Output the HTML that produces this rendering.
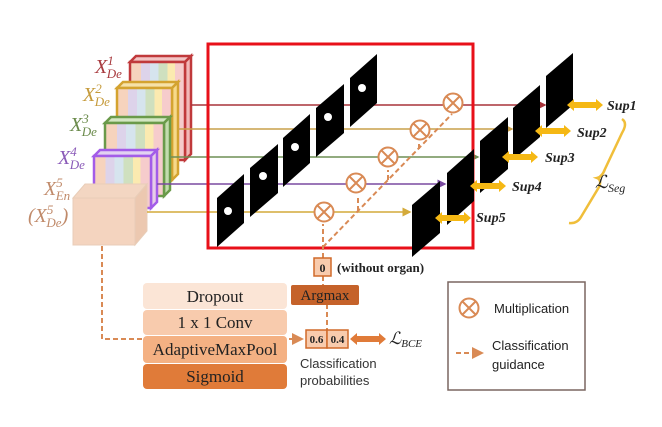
<!DOCTYPE html>
<html><head><meta charset="utf-8"><style>
body{margin:0;background:#fff;width:662px;height:427px;overflow:hidden}
svg{display:block}
text{font-family:"Liberation Serif",serif}
.it{font-style:italic;font-family:"Liberation Serif",serif}
</style></head><body>
<svg width="662" height="427" viewBox="0 0 662 427" xmlns="http://www.w3.org/2000/svg">
<defs>
<linearGradient id="st" x1="0" x2="1" y1="0" y2="0">
<stop offset="0" stop-color="#f6d3bd"/><stop offset="0.2" stop-color="#f6d3bd"/>
<stop offset="0.2" stop-color="#ddd3ea"/><stop offset="0.36" stop-color="#ddd3ea"/>
<stop offset="0.36" stop-color="#d6e4ee"/><stop offset="0.52" stop-color="#d6e4ee"/>
<stop offset="0.52" stop-color="#cfe0bf"/><stop offset="0.68" stop-color="#cfe0bf"/>
<stop offset="0.68" stop-color="#fbeab0"/><stop offset="0.82" stop-color="#fbeab0"/>
<stop offset="0.82" stop-color="#f6cccc"/><stop offset="1" stop-color="#f6cccc"/>
</linearGradient>
<marker id="ah" markerWidth="6" markerHeight="6" refX="5" refY="3" orient="auto"><path d="M0,0L6,3L0,6z" fill="context-stroke"/></marker>
<marker id="oa" markerWidth="6" markerHeight="6" refX="5" refY="3" orient="auto"><path d="M0,0L6,3L0,6z" fill="#d98a55"/></marker>
<g id="m"><circle r="9.5"/><path d="M-6.5,-6.5L6.5,6.5M6.5,-6.5L-6.5,6.5"/></g>
</defs>

<!-- feature blocks -->
<g stroke-width="2.5">
<g stroke="#c0393b"><path d="M130,62 L136,56 L191,56 L185,62z" fill="#f2c4c4"/><path d="M185,62 L191,56 L191,154 L185,160z" fill="#f2b8b8"/><rect x="130" y="62" width="55" height="98" fill="url(#st)"/></g>
<g stroke="#d4a330"><path d="M117,88 L123,82 L178,82 L172,88z" fill="#f6e2a8"/><path d="M172,88 L178,82 L178,174 L172,180z" fill="#f7d98a"/><rect x="117" y="88" width="55" height="92" fill="url(#st)"/></g>
<g stroke="#6a9a4a"><path d="M105,123 L111,117 L170,117 L164,123z" fill="#d3e6c2"/><path d="M164,123 L170,117 L170,190 L164,196z" fill="#c3dcae"/><rect x="105" y="123" width="59" height="73" fill="url(#st)"/></g>
<g stroke="#a35ce8"><path d="M94,156 L100,150 L157,150 L151,156z" fill="#e2d2f2"/><path d="M151,156 L157,150 L157,202 L151,208z" fill="#e6cde8"/><rect x="94" y="156" width="57" height="52" fill="url(#st)"/></g>
</g>
<g stroke="#e8cdb8" stroke-width="1"><path d="M73,198 L85,184 L147,184 L135,198z" fill="#f3d6c2"/><path d="M135,198 L147,184 L147,231 L135,245z" fill="#ecc8b0"/><rect x="73" y="198" width="62" height="47" fill="#f4d4bf"/></g>

<!-- labels -->
<g class="it" font-size="20">
<text x="95" y="73" fill="#a83a3e">X<tspan font-size="13" dy="-8">1</tspan><tspan font-size="13" dx="-7" dy="13">De</tspan></text>
<text x="83" y="101" fill="#c59a3a">X<tspan font-size="13" dy="-8">2</tspan><tspan font-size="13" dx="-7" dy="13">De</tspan></text>
<text x="70" y="131" fill="#6a8a4a">X<tspan font-size="13" dy="-8">3</tspan><tspan font-size="13" dx="-7" dy="13">De</tspan></text>
<text x="58" y="164" fill="#8a5ab8">X<tspan font-size="13" dy="-8">4</tspan><tspan font-size="13" dx="-7" dy="13">De</tspan></text>
<text x="44" y="195" fill="#c08a6a">X<tspan font-size="13" dy="-8">5</tspan><tspan font-size="13" dx="-7" dy="13">En</tspan></text>
<text x="28" y="222" fill="#c08a6a">(X<tspan font-size="13" dy="-8">5</tspan><tspan font-size="13" dx="-7" dy="13">De</tspan><tspan dy="-5">)</tspan></text>
</g>

<!-- horizontal lines -->
<g stroke-width="1.5" fill="none">
<path d="M191,105 H545" stroke="#a8343a" marker-end="url(#ah)"/>
<path d="M178,129 H512" stroke="#c9a04a" marker-end="url(#ah)"/>
<path d="M170,157 H478" stroke="#6f8f55" marker-end="url(#ah)"/>
<path d="M157,184 H445" stroke="#7a4aa0" marker-end="url(#ah)"/>
<path d="M147,212 H410" stroke="#d4aa3a" marker-end="url(#ah)"/>
</g>

<!-- red box -->
<rect x="208" y="44" width="265" height="204" fill="none" stroke="#e8101a" stroke-width="3"/>

<!-- left panels -->
<g fill="#000">
<path d="M217,198 L244,174 L244,223 L217,247z"/>
<path d="M250,168 L278,144 L278,193 L250,217z"/>
<path d="M283,138 L310,114 L310,163 L283,187z"/>
<path d="M316,108 L344,84 L344,133 L316,157z"/>
<path d="M350,78 L377,54 L377,103 L350,127z"/>
</g>
<g fill="#fff">
<circle cx="228" cy="211" r="4"/><circle cx="263" cy="176" r="4"/><circle cx="295" cy="147" r="4"/><circle cx="328" cy="117" r="4"/><circle cx="362" cy="88" r="4"/>
</g>
<!-- right panels -->
<g fill="#000">
<path d="M412,205 L440,181 L440,233 L412,257z"/>
<path d="M447,173 L474,149 L474,201 L447,225z"/>
<path d="M480,141 L508,117 L508,169 L480,193z"/>
<path d="M513,108 L540,85 L540,137 L513,160z"/>
<path d="M546,76 L573,53 L573,105 L546,128z"/>
</g>

<!-- dashed guidance -->
<g stroke="#d98a55" stroke-width="2" stroke-dasharray="5,3" fill="none">
<path d="M323,258 V224"/>
<path d="M323,247 L452,114"/>
<path d="M358,211 V196"/><path d="M388,180 V170"/><path d="M419,149 V143"/>
<path d="M102,246 V339 H302" marker-end="url(#oa)"/>
<path d="M327,304 V330"/><path d="M323,276 V285"/>
</g>
<!-- multiply circles -->
<g stroke="#d98a55" stroke-width="2" fill="#fff">
<use href="#m" x="324" y="212"/><use href="#m" x="356" y="183"/><use href="#m" x="388" y="157"/><use href="#m" x="420" y="130"/><use href="#m" x="453" y="103"/>
<use href="#m" x="469" y="308"/>
</g>

<!-- sup arrows -->
<g fill="#f5b814">
<path d="M567,105 l7,-6 v3 h22 v-3 l7,6 l-7,6 v-3 h-22 v3z"/>
<path d="M535,131 l7,-6 v3 h22 v-3 l7,6 l-7,6 v-3 h-22 v3z"/>
<path d="M502,157 l7,-6 v3 h22 v-3 l7,6 l-7,6 v-3 h-22 v3z"/>
<path d="M470,186 l7,-6 v3 h22 v-3 l7,6 l-7,6 v-3 h-22 v3z"/>
<path d="M435,218 l7,-6 v3 h22 v-3 l7,6 l-7,6 v-3 h-22 v3z"/>
</g>
<g class="it" font-size="14" font-weight="bold" fill="#222">
<text x="607" y="110">Sup1</text><text x="577" y="137">Sup2</text><text x="545" y="162">Sup3</text><text x="512" y="191">Sup4</text><text x="476" y="222">Sup5</text>
</g>
<path d="M622,119 q6,4 0,14 l-17,36 q-3,8 -8,9 q5,2 2,9 l-18,30 q-4,7 -12,6" stroke="#f0be3a" stroke-width="2.5" fill="none"/>
<text x="595" y="188" class="it" font-size="18" fill="#222">ℒ<tspan font-size="12" dy="4">Seg</tspan></text>

<!-- bottom -->
<rect x="314" y="258" width="17" height="18" fill="#f8cbad" stroke="#d06a2a" stroke-width="1.5"/>
<text x="322.5" y="272" font-size="12" text-anchor="middle" font-weight="bold" fill="#222">0</text>
<text x="337" y="272" font-size="13" font-weight="bold" fill="#222">(without organ)</text>
<rect x="291" y="285" width="68" height="20" rx="2" fill="#c5622a"/>
<text x="325" y="300" font-size="15" text-anchor="middle" fill="#222">Argmax</text>

<rect x="143" y="283" width="144" height="26" rx="4" fill="#fbe5d6"/>
<rect x="143" y="310" width="144" height="25" rx="4" fill="#f8cbad"/>
<rect x="143" y="336" width="144" height="27" rx="4" fill="#f4b183"/>
<rect x="143" y="364" width="144" height="25" rx="4" fill="#e07b39"/>
<g font-size="17" text-anchor="middle" fill="#222">
<text x="215" y="302">Dropout</text><text x="215" y="328">1 x 1 Conv</text><text x="215" y="355">AdaptiveMaxPool</text><text x="215" y="382">Sigmoid</text>
</g>
<rect x="306" y="330" width="21" height="18" fill="#f8cbad" stroke="#d06a2a" stroke-width="1.5"/>
<rect x="327" y="330" width="21" height="18" fill="#f8cbad" stroke="#d06a2a" stroke-width="1.5"/>
<text x="316.5" y="343" font-size="11" text-anchor="middle" font-weight="bold" fill="#222">0.6</text>
<text x="337.5" y="343" font-size="11" text-anchor="middle" font-weight="bold" fill="#222">0.4</text>
<path d="M350,339 l7,-6 v3 h22 v-3 l7,6 l-7,6 v-3 h-22 v3z" fill="#e07b39"/>
<text x="389" y="344" class="it" font-size="17" fill="#222">ℒ<tspan font-size="11" dy="3">BCE</tspan></text>
<text x="300" y="368" font-size="13" fill="#333" style="font-family:'Liberation Sans',sans-serif">Classification</text>
<text x="300" y="385" font-size="13" fill="#333" style="font-family:'Liberation Sans',sans-serif">probabilities</text>

<!-- legend -->
<rect x="448" y="282" width="137" height="108" fill="none" stroke="#7a6660" stroke-width="1.5"/>
<text x="494" y="313" font-size="13" fill="#222" style="font-family:'Liberation Sans',sans-serif">Multiplication</text>
<path d="M456,353 H482" stroke="#d98a55" stroke-width="2" stroke-dasharray="5,3" marker-end="url(#oa)"/>
<text x="492" y="350" font-size="13" fill="#222" style="font-family:'Liberation Sans',sans-serif">Classification</text>
<text x="492" y="369" font-size="13" fill="#222" style="font-family:'Liberation Sans',sans-serif">guidance</text>
</svg>
</body></html>
